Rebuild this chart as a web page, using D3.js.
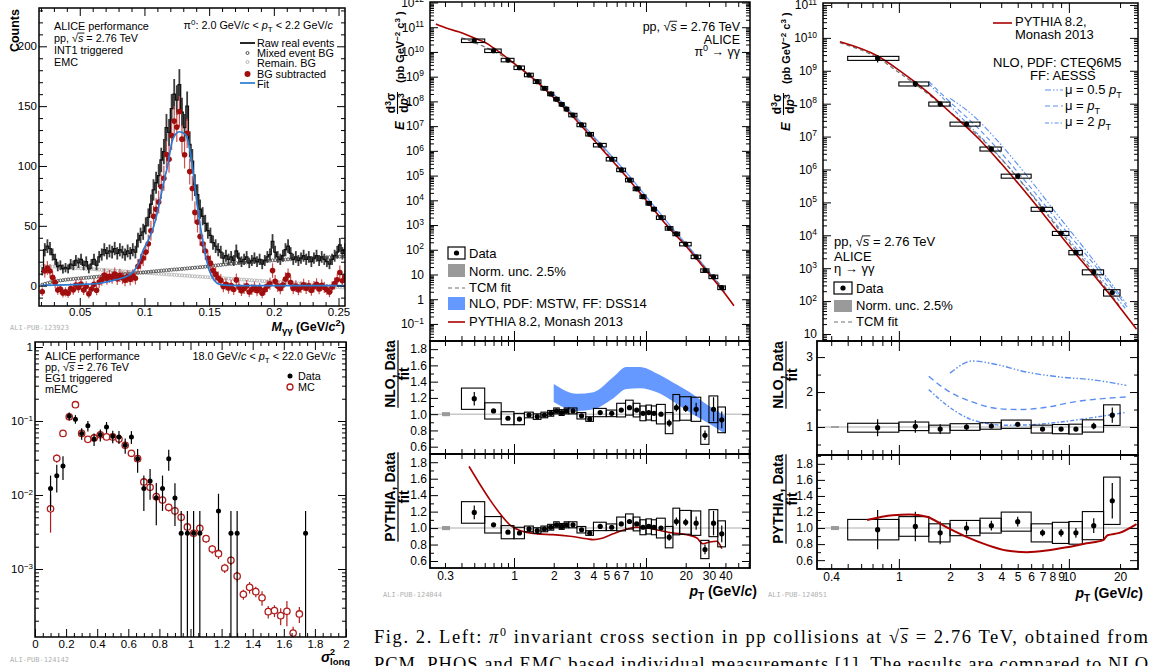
<!DOCTYPE html>
<html><head><meta charset="utf-8">
<script src="https://cdn.jsdelivr.net/npm/d3@7/dist/d3.min.js"></script>
<style>html,body{margin:0;padding:0;background:#fff;overflow:hidden}</style>
</head><body>
<svg id="fig" width="1150" height="666" xmlns="http://www.w3.org/2000/svg"></svg>
<script>
// ======================= DATA =======================
// Panel A: pi0 invariant mass, 2.0<pT<2.2 GeV/c (2 MeV bins from 0.020 GeV/c^2)
const rawCounts = [12,30,33,31,26,22,16,17,14,15, 14,18,17,21,19,22,17,20,14,18,
 22,17,24,26,30,27,29,28,31,27, 30,28,26,29,27,30,28,38,42,45,
 50,57,68,80,86,92,105,112,132,128, 148,160,155,168,145,132,150,118,104,84,
 76,64,58,52,46,42,36,33,30,28, 23,25,22,24,21,29,23,20,22,24,
 19,21,23,20,22,18,21,24,26,37, 28,24,22,25,30,33,27,22,24,21,
 23,25,22,24,20,23,25,21,24,22, 20,18,22,25,28,34,27,30];
const mixedBG = [0.8,1.5,2.1,2.7,3.2,3.6,4.0,4.3,4.6,4.9, 5.2,5.4,5.6,5.8,6.0,6.2,6.4,6.6,6.8,7.0,
 7.2,7.4,7.6,7.8,8.0,8.2,8.4,8.6,8.8,9.0, 9.2,9.4,9.6,9.8,10.1,10.3,10.5,10.7,10.9,11.1,
 11.3,11.5,11.7,11.9,12.1,12.3,12.5,12.7,12.9,13.1, 13.3,13.5,13.6,13.8,14.0,14.2,14.4,14.6,14.8,15.0,
 15.2,15.4,15.6,15.8,16.1,16.3,16.6,16.8,17.1,17.3, 17.6,17.8,18.1,18.3,18.6,18.8,18.9,19.1,19.3,19.4,
 19.6,19.8,19.9,20.1,20.3,20.4,20.6,20.8,20.9,21.1, 21.2,21.4,21.5,21.7,21.8,22.0,22.1,22.3,22.4,22.6,
 22.7,22.8,22.9,23.0,23.1,23.2,23.3,23.4,23.5,23.6, 23.7,23.8,23.9,24.1,24.2,24.3,24.5,24.6];
const remainBG = [16.3,16.2,16.1,16.0,15.9,15.8,15.7,15.6,15.5,15.3, 15.2,15.0,14.9,14.7,14.6,14.4,14.3,14.1,14.0,13.8,
 13.7,13.5,13.4,13.2,13.1,12.9,12.8,12.6,12.5,12.3, 12.2,12.0,11.9,11.7,11.6,11.4,11.3,11.1,11.0,10.8,
 10.7,10.5,10.4,10.2,10.1,9.9,9.8,9.6,9.5,9.3, 9.2,9.0,8.9,8.7,8.6,8.4,8.3,8.1,8.0,7.8,
 7.7,7.5,7.4,7.2,7.1,6.9,6.8,6.6,6.5,6.3, 6.2,6.0,5.9,5.7,5.6,5.4,5.3,5.1,5.0,4.8,
 4.7,4.5,4.4,4.2,4.1,3.9,3.8,3.6,3.5,3.3, 3.2,3.0,2.9,2.7,2.6,2.4,2.3,2.1,2.0,1.8,
 1.6,1.4,1.3,1.1,0.9,0.7,0.5,0.3,0.1,-0.1, -0.3,-0.5,-0.7,-0.9,-1.1,-1.3,-1.6,-1.9];
const bgSubtracted = [-5.1,12.3,14.8,12.3,6.9,2.6,-3.7,-2.9,-6.1,-5.2, -6.4,-2.4,-3.5,0.5,-1.6,1.4,-3.7,-0.7,-6.8,-2.8,
 1.1,-3.9,3.0,5.0,8.9,5.9,7.8,6.8,9.7,5.7, 8.6,6.6,4.5,7.5,5.3,8.3,6.2,16.2,20.1,23.1,
 28.0,35.0,45.9,57.9,63.8,69.8,82.7,89.7,109.6,105.6, 125.5,137.5,132.5,145.5,122.4,109.4,127.3,95.3,81.2,61.2,
 53.1,41.1,35.0,29.0,22.8,18.8,12.6,9.6,6.4,4.4, -0.8,1.2,-2.0,0.0,-3.2,4.8,-1.2,-4.2,-2.3,-0.2,
 -5.3,-3.3,-1.3,-4.3,-2.4,-6.3,-3.4,-0.4,1.6,12.6, 3.6,-0.4,-2.4,0.6,5.6,8.6,2.6,-2.4,-0.4,-3.4,
 -1.3,0.8,-2.2,-0.1,-4.0,-0.9,1.2,-2.7,0.4,-1.5, -3.4,-5.3,-1.2,1.8,4.9,11.0,4.1,7.3];
const fitMass   = [0.02,0.04,0.055,0.0655,0.078,0.086,0.0915,0.096,0.099,0.103,0.107,0.111,0.115,0.1177,0.1218,0.127,0.132,0.136,0.1407,0.146,0.15,0.154,0.159,0.165,0.18,0.22,0.255];
const fitCounts = [0.3,0.6,1.2,2,5,7.7,11.7,20,29.5,38,49,66,87,99,122,128.6,126,108,68,32,13,4.4,0.8,0.2,0,0,0];

// Panel B: sigma^2_long distribution, 18<pT<22 GeV/c
const sigData    = [0.10,0.14,0.18,0.22,0.26,0.30,0.34,0.38,0.42,0.46,0.50,0.54,0.58,0.62,0.66,0.70,0.74,0.78,0.82,0.86,0.90,0.94,0.98,1.02,1.06,1.18,1.26,1.30,1.74];
const sigDataVal = [0.0122,0.0182,0.0247,0.116,0.106,0.068,0.086,0.057,0.065,0.083,0.062,0.061,0.047,0.061,0.031,0.0122,0.0155,0.0092,0.0122,0.031,0.0091,0.00304,0.00304,0.00304,0.00304,0.0061,0.00304,0.00304,0.00304];
const sigDataErr = [0.0061,0.0074,0.0087,0.014,0.014,0.012,0.014,0.011,0.012,0.014,0.012,0.012,0.011,0.012,0.011,0.0061,0.0069,0.0053,0.0061,0.0098,0.0053,0.00304,0.00304,0.00304,0.00304,0.0043,0.00304,0.00304,0.00304];
const sigMC    = [0.10,0.14,0.18,0.22,0.26,0.30,0.34,0.38,0.42,0.46,0.50,0.54,0.58,0.62,0.66,0.70,0.74,0.78,0.82,0.86,0.90,0.94,0.98,1.02,1.06,1.10,1.14,1.18,1.22,1.26,1.30,1.34,1.38,1.42,1.46,1.50,1.54,1.58,1.62,1.66,1.70];
const sigMCVal = [0.0065,0.0313,0.068,0.114,0.166,0.068,0.0565,0.059,0.065,0.061,0.061,0.057,0.047,0.0366,0.031,0.015,0.0127,0.0095,0.00855,0.0068,0.0061,0.0050,0.0037,0.00304,0.00355,0.00257,0.00186,0.00161,0.00103,0.00131,0.0008,0.000455,0.000566,0.000494,0.000409,0.000265,0.000274,0.000234,0.000268,0.000136,0.000247];
const sigMCErr = [0.0034,0.004,0.004,0.005,0.006,0.003,0.003,0.003,0.003,0.003,0.003,0.003,0.003,0.0025,0.0022,0.0015,0.0014,0.0012,0.001,0.0008,0.0008,0.0006,0.0005,0.0004,0.0004,0.0003,0.00025,0.00025,0.00015,0.00018,0.00012,0.00007,0.0001,0.00008,0.00009,0.00005,0.00005,0.00006,0.0001,0.00003,0.00006];

// Panel C: pi0 invariant cross section
const pi0Edges = [0.4,0.6,0.8,1.0,1.2,1.4,1.6,1.8,2.0,2.2,2.4,2.6,3.0,3.5,4.0,5.0,6.0,7.0,8.0,9.0,10,11,12,14,16,18,22,26,30,35,40];
const pi0Pt    = [0.5,0.7,0.9,1.1,1.3,1.5,1.7,1.9,2.1,2.3,2.5,2.8,3.25,3.75,4.5,5.5,6.5,7.5,8.5,9.5,10.5,11.5,13,15,17,20,24,28,32.5,37.5];
const pi0Xsec  = [2.85e10,1.12e10,4.7e9,2.3e9,1.17e9,6.3e8,3.4e8,2.0e8,1.23e8,7.6e7,4.9e7,2.8e7,1.12e7,4.7e6,1.7e6,4.6e5,1.7e5,6.6e4,2.9e4,1.4e4,7.6e3,4.4e3,2.0e3,740,440,170,52,14.5,8.1,2.95];
const pi0Ratio = [1.19,1.04,0.95,0.94,0.99,0.97,0.99,1.01,1.04,1.02,1.04,1.04,0.98,0.94,1.02,1.01,1.05,1.08,1.05,1.01,1.02,1.01,1.00,0.89,1.08,1.07,1.06,0.74,1.06,0.93];
const pi0Sys   = [0.11,0.096,0.084,0.074,0.035,0.035,0.035,0.035,0.035,0.035,0.035,0.035,0.04,0.03,0.05,0.04,0.08,0.085,0.08,0.09,0.09,0.09,0.12,0.146,0.15,0.135,0.14,0.15,0.155,0.17];
const pi0Stat  = [0.07,0.015,0.01,0.01,0.01,0.01,0.01,0.01,0.01,0.01,0.01,0.01,0.01,0.01,0.01,0.01,0.012,0.015,0.015,0.015,0.02,0.02,0.02,0.05,0.045,0.04,0.075,0.08,0.14,0.11];
const pi0TcmPt = [0.4,0.5,0.7,1,1.5,2,3,4,6,8,10,15,20,30,40];
const pi0Tcm   = [3.8e10,2.4e10,1.07e10,3.47e9,6.5e8,1.55e8,1.82e7,3.4e6,2.7e5,4.3e4,1.02e4,794,158,12.6,2.1];
const pi0PyPt  = [0.256,0.31,0.41,0.5,0.62,0.7,1,1.5,2,3,4,6,8,10,15,20,30,40,46.4];
const pi0Py    = [1.35e11,9.0e10,5.75e10,3.63e10,2.24e10,1.45e10,3.47e9,6.0e8,1.41e8,1.62e7,2.9e6,2.5e5,4.3e4,1.02e4,750,145,10.5,1.58,0.54];
const pi0NloPt = [2.0,3.0,4.0,5.6,7.1,9.0,12.1,16,21.5,28.9,39.6];
const pi0NloLo = [1.78e8,1.89e7,3.59e6,5.0e5,1.20e5,2.63e4,3.9e3,631,102,14.3,1.70];
const pi0NloHi = [2.14e8,2.28e7,4.31e6,6.0e5,1.45e5,3.16e4,4.68e3,759,126,17.8,2.19];
const pi0NloRLo = [1.15,1.04,1.06,1.19,1.31,1.32,1.27,1.16,1.02,0.90,0.76];
const pi0NloRHi = [1.37,1.25,1.27,1.45,1.58,1.58,1.50,1.39,1.27,1.12,0.98];
const pi0PyRPt = [0.456,0.553,0.66,0.78,0.93,1.11,1.49,1.97,2.66,3.57,3.97,4.73,5.62,7.2,8.5,10.1,12.8,16,20.4,24.3,27,30.4,34.4,37.6];
const pi0PyR   = [1.75,1.53,1.34,1.18,1.04,0.97,0.93,0.92,0.90,0.87,0.86,0.88,0.93,0.99,1.01,1.0,0.97,0.94,0.92,0.88,0.81,0.83,0.84,0.75];
const pi0XLabels = [0.3,1,2,3,4,5,6,7,10,20,30,40];

// Panel D: eta invariant cross section
const etaEdges = [0.5,1,1.5,2,3,4,6,8,10,12,16,20];
const etaPt    = [0.75,1.25,1.75,2.5,3.5,5,7,9,11,14,18];
const etaXsec  = [2.4e9,4.0e8,9.8e7,2.4e7,4.2e6,6.3e5,6.2e4,1.15e4,3.0e3,760,182];
const etaRatio = [0.98,1.02,0.94,1.0,1.03,1.08,0.94,0.94,0.94,1.03,1.34];
const etaSys   = [0.13,0.12,0.12,0.095,0.09,0.11,0.12,0.14,0.15,0.17,0.22];
const etaStat  = [0.25,0.18,0.15,0.08,0.06,0.055,0.045,0.05,0.065,0.09,0.165];
const etaTcmPt = [0.45,0.75,1,1.5,2,3,4,6,8,10,14,20];
const etaTcm   = [7.1e9,2.45e9,8.9e8,1.9e8,5.6e7,9.5e6,2.1e6,1.78e5,2.7e4,6.2e3,741,67.6];
const etaPyPt  = [0.45,0.75,1,1.5,2,3,4,6,8,10,14,20,25];
const etaPy    = [7.6e9,2.8e9,1.05e9,2.1e8,5.5e7,7.9e6,1.51e6,1.26e5,2.0e4,4.8e3,617,63,14];
const etaNlo05Pt = [2.0,2.73,3.57,5.66,8.85,13.8,21.8];
const etaNlo05   = [1.45e8,4.4e7,1.07e7,6.5e5,3.4e4,1.9e3,83];
const etaNlo1Pt  = [1.5,2.0,3,4,6,8,10,14,20,22];
const etaNlo1    = [4.7e8,1.12e8,1.58e7,3.16e6,2.7e5,4.3e4,1.05e4,1.35e3,126,66];
const etaNlo2Pt  = [1.5,1.92,2.5,3.3,4.3,5.66,8.85,13.8,21.8];
const etaNlo2    = [4.0e8,1.10e8,2.6e7,6.3e6,1.41e6,2.7e5,1.58e4,1.02e3,54];
const etaNlo05R  = [2.54,2.89,2.81,2.57,2.43,2.35,2.19];
const etaNlo1RPt = [1.5,1.92,2.73,3.93,5.15,7.03,11.1,17.4,21.8];
const etaNlo1R   = [2.45,2.05,1.71,1.52,1.50,1.55,1.73,1.83,1.86];
const etaNlo2R   = [2.07,1.62,1.27,1.10,1.05,1.06,1.14,1.27,1.42];
const etaPyRPt = [0.65,0.92,1.16,1.46,1.91,2.5,3.29,4.3,5.66,7.4,9.7,12.7,15.9,16.9,19.8,25];
const etaPyR   = [1.10,1.16,1.17,1.14,1.01,0.89,0.79,0.72,0.70,0.72,0.76,0.81,0.85,0.91,0.94,1.05];
const etaXLabels = [0.4,1,2,3,4,5,6,7,8,9,10,20];

// ======================= HELPERS =======================
const svg = d3.select("#fig");
const FONT = "'Liberation Sans', Arial, Helvetica, sans-serif";
const RED = "#aa0000", BLUE = "#6699ff", LBLUE = "#5b8ef0";

function txt(parent, x, y, html, o = {}) {
  const fs = o.size || 12;
  const t = parent.append("text").attr("x", x).attr("y", y)
    .attr("font-family", o.family || FONT).attr("font-size", fs)
    .attr("text-anchor", o.anchor || "start").attr("fill", o.fill || "#000");
  if (o.weight) t.attr("font-weight", o.weight);
  if (o.style) t.attr("font-style", o.style);
  if (o.len) t.attr("textLength", o.len).attr("lengthAdjust", "spacing");
  t.html(html);
  t.selectAll(".ov").each(function () {
    const b = this.getBBox();
    parent.append("line").attr("x1", b.x - 0.5).attr("x2", b.x + b.width + 0.5)
      .attr("y1", y - fs * 0.78).attr("y2", y - fs * 0.78)
      .attr("stroke", o.fill || "#000").attr("stroke-width", fs > 14 ? 1.1 : 0.9);
  });
  return t;
}
function frame(x0, y0, x1, y1, w) {
  svg.append("rect").attr("x", x0).attr("y", y0).attr("width", x1 - x0).attr("height", y1 - y0)
    .attr("fill", "none").attr("stroke", "#000").attr("stroke-width", w || 1.5);
}
let clipN = 0;
function clipG(x0, y0, x1, y1) {
  const id = "clip" + (clipN++);
  svg.append("clipPath").attr("id", id).append("rect").attr("x", x0).attr("y", y0).attr("width", x1 - x0).attr("height", y1 - y0);
  return svg.append("g").attr("clip-path", `url(#${id})`);
}
function ticks(orient, pos, scale, vals, len, fmt, pad, fs) {
  const mk = { left: d3.axisLeft, right: d3.axisRight, top: d3.axisTop, bottom: d3.axisBottom }[orient];
  const tr = (orient === "left" || orient === "right") ? `translate(${pos},0)` : `translate(0,${pos})`;
  const g = svg.append("g").attr("transform", tr);
  g.call(mk(scale).tickValues(vals).tickSizeInner(-len).tickSizeOuter(0)
    .tickPadding(pad == null ? 4 : pad).tickFormat(fmt || (() => "")));
  g.select(".domain").remove();
  g.selectAll(".tick line").attr("stroke", "#000").attr("stroke-width", 1);
  g.attr("font-family", FONT).attr("font-size", fs || 12);
  g.selectAll(".tick text").attr("fill", "#000");
  return g;
}
function logVals(a, b) {
  const maj = [], min = [];
  for (let e = Math.floor(Math.log10(a)); e <= Math.ceil(Math.log10(b)); e++)
    for (let k = 1; k <= 9; k++) {
      const v = +(k * Math.pow(10, e)).toPrecision(6);
      if (v >= a * 0.9999 && v <= b * 1.0001) (k === 1 ? maj : min).push(v);
    }
  return [maj, min];
}
function supLabels(g, supSize) {
  g.selectAll(".tick text").each(function (d) {
    const e = Math.round(Math.log10(d)), t = d3.select(this);
    t.text("");
    if (e === 0) t.text("1");
    else if (e === 1) t.text("10");
    else {
      t.append("tspan").text("10");
      t.append("tspan").attr("dy", "-0.55em").attr("font-size", supSize).text(e < 0 ? "\u2212" + (-e) : e);
    }
  });
}
function linRange(a, b, step) { const n = Math.round((b - a) / step); return d3.range(n + 1).map(i => +(a + i * step).toFixed(6)); }
function without(arr, rem) { return arr.filter(v => !rem.some(r => Math.abs(r - v) < 1e-9)); }
function yTicks(scale, x0, x1, maj, min, lMaj, lMin, fmt, pad, fs) {
  const g = ticks("left", x0, scale, maj, lMaj, fmt, pad, fs);
  ticks("left", x0, scale, min, lMin);
  ticks("right", x1, scale, maj, lMaj);
  ticks("right", x1, scale, min, lMin);
  return g;
}
function xTicks(scale, y0, y1, maj, min, lMaj, lMin) {
  ticks("bottom", y1, scale, maj, lMaj); ticks("bottom", y1, scale, min, lMin);
  ticks("top", y0, scale, maj, lMaj); ticks("top", y0, scale, min, lMin);
}
function vbar(g, x, ya, yb, color, w) {
  g.append("line").attr("x1", x).attr("x2", x).attr("y1", ya).attr("y2", yb).attr("stroke", color).attr("stroke-width", w);
}
const SQS = 'pp, \u221A<tspan class="ov" font-style="italic">s</tspan> = 2.76 TeV';

// ======================= PANEL A =======================
{
  const A = { x0: 39, x1: 345, y0: 8, y1: 306 };
  const x = d3.scaleLinear([0.0185, 0.255], [A.x0, A.x1]);
  const y = d3.scaleLinear([-17, 232], [A.y1, A.y0]);
  const centers = rawCounts.map((_, i) => 0.021 + 0.002 * i);
  const g = clipG(A.x0, A.y0, A.x1, A.y1);
  g.selectAll(null).data(remainBG).join("circle").attr("cx", (d, i) => x(centers[i])).attr("cy", d => y(d))
    .attr("r", 1.5).attr("fill", "none").attr("stroke", "#b4b4b4").attr("stroke-width", 0.9);
  g.selectAll(null).data(mixedBG).join("circle").attr("cx", (d, i) => x(centers[i])).attr("cy", d => y(d))
    .attr("r", 1.5).attr("fill", "none").attr("stroke", "#505050").attr("stroke-width", 0.9);
  rawCounts.forEach((v, i) => vbar(g, x(centers[i]), y(v + Math.sqrt(v)), y(v - Math.sqrt(v)), "#3c3c3c", 1.8));
  const steps = rawCounts.map((v, i) => [0.020 + 0.002 * i, v]);
  steps.push([0.020 + 0.002 * rawCounts.length, rawCounts[rawCounts.length - 1]]);
  g.append("path").attr("d", d3.line().x(d => x(d[0])).y(d => y(d[1])).curve(d3.curveStepAfter)(steps))
    .attr("fill", "none").attr("stroke", "#111").attr("stroke-width", 1.3);
  bgSubtracted.forEach((v, i) => vbar(g, x(centers[i]), y(v + Math.sqrt(rawCounts[i])), y(v - Math.sqrt(rawCounts[i])), "#c85050", 1.2));
  g.selectAll(null).data(bgSubtracted).join("circle").attr("cx", (d, i) => x(centers[i])).attr("cy", d => y(d))
    .attr("r", 2.8).attr("fill", "#a00e0e");
  g.append("path").attr("d", d3.line().x((d, i) => x(fitMass[i])).y(d => y(d)).curve(d3.curveMonotoneX)(fitCounts))
    .attr("fill", "none").attr("stroke", "#2a7bd4").attr("stroke-width", 1.7);
  frame(A.x0, A.y0, A.x1, A.y1);
  yTicks(y, A.x0, A.x1, [0, 50, 100, 150, 200], without(linRange(-10, 230, 10), [0, 50, 100, 150, 200]), 8, 4, d => d, 2, 11.5);
  const xm = [0.05, 0.1, 0.15, 0.2, 0.25];
  xTicks(x, A.y0, A.y1, xm, without(linRange(0.02, 0.25, 0.01), xm), 8, 4);
  ticks("bottom", A.y1, x, xm, 0, d => String(+d.toFixed(2)), 1.5, 11.5);
  txt(svg, 0, 0, "Counts", { size: 12.5, weight: "bold", anchor: "end" }).attr("transform", "translate(19,9) rotate(-90)");
  txt(svg, 345, 331, '<tspan font-style="italic">M</tspan><tspan dy="3" font-size="9.5">\u03B3\u03B3</tspan><tspan dy="-3"> (GeV/</tspan><tspan font-style="italic">c</tspan><tspan dy="-5" font-size="9.5">2</tspan><tspan dy="5">)</tspan>', { size: 12.5, weight: "bold", anchor: "end" });
  txt(svg, 10, 330, "ALI-PUB-123923", { size: 7, fill: "#b0b0b0", family: "'DejaVu Sans Mono', monospace" });
  const fs = 10.8;
  txt(svg, 54, 30, "ALICE performance", { size: fs });
  txt(svg, 54, 41.5, SQS, { size: fs });
  txt(svg, 54, 53.5, "INT1 triggered", { size: fs });
  txt(svg, 54, 65.5, "EMC", { size: fs });
  txt(svg, 333, 29, '\u03C0<tspan dy="-4" font-size="8">0</tspan><tspan dy="4">: 2.0 GeV/</tspan><tspan font-style="italic">c</tspan><tspan> &lt; </tspan><tspan font-style="italic">p</tspan><tspan dy="3" font-size="8">T</tspan><tspan dy="-3"> &lt; 2.2 GeV/</tspan><tspan font-style="italic">c</tspan>', { size: fs, anchor: "end" });
  svg.append("line").attr("x1", 240).attr("x2", 255).attr("y1", 43).attr("y2", 43).attr("stroke", "#111").attr("stroke-width", 1.8);
  svg.append("circle").attr("cx", 247.5).attr("cy", 53).attr("r", 1.5).attr("fill", "none").attr("stroke", "#505050");
  svg.append("circle").attr("cx", 247.5).attr("cy", 62).attr("r", 1.5).attr("fill", "none").attr("stroke", "#b4b4b4");
  svg.append("circle").attr("cx", 247.5).attr("cy", 74).attr("r", 3).attr("fill", "#a00e0e");
  svg.append("line").attr("x1", 240).attr("x2", 255).attr("y1", 83).attr("y2", 83).attr("stroke", "#2a7bd4").attr("stroke-width", 1.7);
  txt(svg, 257, 47, "Raw real events", { size: fs });
  txt(svg, 257, 57, "Mixed event BG", { size: fs });
  txt(svg, 257, 66.5, "Remain. BG", { size: fs });
  txt(svg, 257, 78, "BG subtracted", { size: fs });
  txt(svg, 257, 87.5, "Fit", { size: fs });
}

// ======================= PANEL B =======================
{
  const B = { x0: 35, x1: 346, y0: 342, y1: 637 };
  const x = d3.scaleLinear([0, 2], [B.x0, B.x1]);
  const y = d3.scaleLog([Math.pow(10, -3.919), Math.pow(10, 0.0676)], [B.y1, B.y0]);
  const g = clipG(B.x0, B.y0, B.x1, B.y1);
  sigMC.forEach((s, i) => {
    const v = sigMCVal[i], e = sigMCErr[i];
    vbar(g, x(s), y(v + e), v - e > 0 ? y(v - e) : B.y1 + 5, "#b01c1c", 1.2);
  });
  g.selectAll(null).data(sigMCVal).join("circle").attr("cx", (d, i) => x(sigMC[i])).attr("cy", d => y(d))
    .attr("r", 3.2).attr("fill", "#fff").attr("stroke", "#b01c1c").attr("stroke-width", 1.3);
  sigData.forEach((s, i) => {
    const v = sigDataVal[i], e = sigDataErr[i];
    vbar(g, x(s), y(v + e), v - e > 1e-6 ? y(v - e) : B.y1 + 5, "#000", 1.2);
  });
  g.selectAll(null).data(sigDataVal).join("circle").attr("cx", (d, i) => x(sigData[i])).attr("cy", d => y(d))
    .attr("r", 2.5).attr("fill", "#000");
  frame(B.x0, B.y0, B.x1, B.y1);
  const [ymaj, ymin] = logVals(y.domain()[0], y.domain()[1]);
  const gy = yTicks(y, B.x0, B.x1, ymaj, ymin, 8, 4, d => d, 2, 11.5);
  supLabels(gy, 8);
  const xm = linRange(0, 2, 0.2);
  xTicks(x, B.y0, B.y1, xm, without(linRange(0, 2, 0.05), xm), 8, 4);
  ticks("bottom", B.y1, x, xm, 0, d => String(+d.toFixed(1)), 2.5, 11.5);
  txt(svg, 321, 662, "\u03C3", { size: 14, weight: "bold", style: "italic" });
  txt(svg, 330, 655, "2", { size: 9, weight: "bold" });
  txt(svg, 330, 665, "long", { size: 9.5, weight: "bold" });
  txt(svg, 10, 662, "ALI-PUB-124142", { size: 7, fill: "#b0b0b0", family: "'DejaVu Sans Mono', monospace" });
  const fs = 10.8;
  txt(svg, 45, 360, "ALICE performance", { size: fs });
  txt(svg, 45, 371, SQS, { size: fs });
  txt(svg, 45, 382, "EG1 triggered", { size: fs });
  txt(svg, 45, 393, "mEMC", { size: fs });
  txt(svg, 336, 360, '18.0 GeV/<tspan font-style="italic">c</tspan><tspan> &lt; </tspan><tspan font-style="italic">p</tspan><tspan dy="3" font-size="8">T</tspan><tspan dy="-3"> &lt; 22.0 GeV/</tspan><tspan font-style="italic">c</tspan>', { size: fs, anchor: "end" });
  svg.append("circle").attr("cx", 290).attr("cy", 376).attr("r", 2.5).attr("fill", "#000");
  svg.append("circle").attr("cx", 290).attr("cy", 387).attr("r", 3).attr("fill", "none").attr("stroke", "#b01c1c").attr("stroke-width", 1.3);
  txt(svg, 298, 380, "Data", { size: fs });
  txt(svg, 298, 391, "MC", { size: fs });
}

// ============ shared drawing for spectra / ratios ============
function spectrumTitle(bx, by) {
  const g = svg.append("g").attr("transform", `translate(${bx},${by}) rotate(-90)`)
    .attr("font-family", FONT).attr("font-weight", "bold").attr("font-size", 11);
  g.append("text").attr("x", 0).attr("y", 0).attr("font-style", "italic").attr("font-size", 13).text("E");
  const cx = 27;
  g.append("text").attr("x", cx).attr("y", -9).attr("text-anchor", "middle").attr("font-size", 12)
    .html('d<tspan dy="-4" font-size="8.5">3</tspan><tspan dy="4">\u03C3</tspan>');
  g.append("line").attr("x1", cx - 11).attr("x2", cx + 11).attr("y1", -6.5).attr("y2", -6.5).attr("stroke", "#000").attr("stroke-width", 1.1);
  g.append("text").attr("x", cx).attr("y", 4).attr("text-anchor", "middle").attr("font-size", 12)
    .html('d<tspan font-style="italic">p</tspan><tspan dy="-4" font-size="8.5">3</tspan>');
  g.append("text").attr("x", 47).attr("y", 0)
    .html('(pb GeV<tspan dy="-4.5" font-size="8">\u22122</tspan><tspan dy="4.5"> c</tspan><tspan dy="-4.5" font-size="8">3</tspan><tspan dy="4.5"> )</tspan>');
}
function ratioTitle(lx, cy, num) {
  const g = svg.append("g").attr("transform", `translate(${lx},${cy}) rotate(-90)`)
    .attr("font-family", FONT).attr("font-weight", "bold").attr("font-size", 14);
  const t = g.append("text").attr("x", 0).attr("y", -3).attr("text-anchor", "middle").text(num);
  const w = t.node().getComputedTextLength();
  g.append("line").attr("x1", -w / 2).attr("x2", w / 2).attr("y1", 0).attr("y2", 0).attr("stroke", "#000").attr("stroke-width", 1.2);
  g.append("text").attr("x", 0).attr("y", 11).attr("text-anchor", "middle").text("fit");
}
function ptTitle(xe, yb) {
  txt(svg, xe, yb, '<tspan font-style="italic">p</tspan><tspan dy="3.5" font-size="10">T</tspan><tspan dy="-3.5"> (GeV/</tspan><tspan font-style="italic">c</tspan>)', { size: 14, weight: "bold", anchor: "end" });
}
function dataBoxes(g, x, y, edges, pts, vals, sys, stat, minH, r) {
  pts.forEach((p, i) => {
    const v = vals[i];
    let ya = y(v * (1 + sys[i])), yb = y(v * (1 - sys[i]));
    if (yb - ya < minH) { const m = (ya + yb) / 2; ya = m - minH / 2; yb = m + minH / 2; }
    g.append("rect").attr("x", x(edges[i])).attr("y", ya).attr("width", x(edges[i + 1]) - x(edges[i])).attr("height", yb - ya)
      .attr("fill", "none").attr("stroke", "#000").attr("stroke-width", 1.1);
  });
  pts.forEach((p, i) => vbar(g, x(p), y(vals[i] * (1 + stat[i])), y(vals[i] * (1 - stat[i])), "#000", 1.2));
  g.selectAll(null).data(vals).join("circle").attr("cx", (d, i) => x(pts[i])).attr("cy", d => y(d)).attr("r", r || 2.6).attr("fill", "#000");
}
function curve(g, x, y, pts, vals, color, w, dash) {
  const p = g.append("path").attr("d", d3.line().x((d, i) => x(pts[i])).y(d => y(d)).curve(d3.curveMonotoneX)(vals))
    .attr("fill", "none").attr("stroke", color).attr("stroke-width", w);
  if (dash) p.attr("stroke-dasharray", dash);
  return p;
}
function unityAndNorm(g, x0, x1, y, nx) {
  g.append("line").attr("x1", x0).attr("x2", x1).attr("y1", y(1)).attr("y2", y(1)).attr("stroke", "#c8c8c8").attr("stroke-width", 1.5);
  g.append("rect").attr("x", nx).attr("y", y(1.025)).attr("width", 8).attr("height", y(0.975) - y(1.025)).attr("fill", "#9a9a9a");
}
function logXTicks(x, y0, y1) {
  const [maj, min] = logVals(x.domain()[0], x.domain()[1]);
  xTicks(x, y0, y1, maj, min, 10, 5);
}
const ratioFmt = d => d.toFixed(1);

// ======================= PANEL C =======================
{
  const X0 = 430, X1 = 750, Y0 = 2, YS = 341, YR = 454, YB = 568;
  const x = d3.scaleLog([0.231, 61.4], [X0, X1]);
  const y = d3.scaleLog([Math.pow(10, -1.69), Math.pow(10, 12.02)], [YS, Y0]);
  const r1 = d3.scaleLinear([0.51, 1.9], [YR, YS]);
  const r2 = d3.scaleLinear([0.515, 1.9], [YB, YR]);
  // spectrum
  const g = clipG(X0, Y0, X1, YS);
  g.append("path").attr("d", d3.area().x((d, i) => x(pi0NloPt[i])).y0(d => y(d)).y1((d, i) => y(pi0NloHi[i])).curve(d3.curveMonotoneX)(pi0NloLo)).attr("fill", BLUE);
  curve(g, x, y, pi0TcmPt, pi0Tcm, "#707070", 1.2, "4,3");
  curve(g, x, y, pi0PyPt, pi0Py, RED, 1.6);
  dataBoxes(g, x, y, pi0Edges, pi0Pt, pi0Xsec, pi0Sys, pi0Stat, 3.5, 2.6);
  frame(X0, Y0, X1, YS);
  const [ymaj, ymin] = logVals(y.domain()[0], y.domain()[1]);
  supLabels(yTicks(y, X0, X1, ymaj, ymin, 8, 4, d => d, 6, 12), 8.5);
  logXTicks(x, Y0, YS);
  spectrumTitle(404, 130);
  txt(svg, 740, 31, SQS, { size: 12.5, anchor: "end" });
  txt(svg, 740, 43.5, "ALICE", { size: 12.5, anchor: "end" });
  txt(svg, 740, 56, '\u03C0<tspan dy="-5" font-size="9">0</tspan><tspan dy="5"> \u2192 \u03B3\u03B3</tspan>', { size: 12.5, anchor: "end" });
  // legend
  svg.append("rect").attr("x", 448).attr("y", 247).attr("width", 17).attr("height", 12).attr("fill", "none").attr("stroke", "#000").attr("stroke-width", 1.2);
  svg.append("circle").attr("cx", 456.5).attr("cy", 253).attr("r", 2.6).attr("fill", "#000");
  svg.append("rect").attr("x", 448).attr("y", 264).attr("width", 17).attr("height", 13).attr("fill", "#9a9a9a");
  svg.append("line").attr("x1", 448).attr("x2", 465).attr("y1", 288).attr("y2", 288).attr("stroke", "#707070").attr("stroke-width", 1.2).attr("stroke-dasharray", "4,3");
  svg.append("rect").attr("x", 448).attr("y", 297).attr("width", 17).attr("height", 13).attr("fill", BLUE);
  svg.append("line").attr("x1", 448).attr("x2", 465).attr("y1", 322).attr("y2", 322).attr("stroke", RED).attr("stroke-width", 1.6);
  txt(svg, 469, 258, "Data", { size: 13 });
  txt(svg, 469, 276, "Norm. unc. 2.5%", { size: 13 });
  txt(svg, 469, 292, "TCM fit", { size: 13 });
  txt(svg, 469, 308, "NLO, PDF: MSTW, FF: DSS14", { size: 13 });
  txt(svg, 469, 326, "PYTHIA 8.2, Monash 2013", { size: 13 });
  // NLO ratio
  const g1 = clipG(X0, YS, X1, YR);
  unityAndNorm(g1, X0, X1, r1, X0 + 12);
  g1.append("path").attr("d", d3.area().x((d, i) => x(pi0NloPt[i])).y0(d => r1(d)).y1((d, i) => r1(pi0NloRHi[i])).curve(d3.curveMonotoneX)(pi0NloRLo)).attr("fill", BLUE);
  dataBoxes(g1, x, r1, pi0Edges, pi0Pt, pi0Ratio, pi0Sys, pi0Stat, 0, 2.6);
  frame(X0, YS, X1, YR, 1.8);
  const rm = [0.6, 0.8, 1.0, 1.2, 1.4, 1.6, 1.8];
  yTicks(r1, X0, X1, rm, without(linRange(0.6, 1.8, 0.1), rm), 8, 4, ratioFmt, 3, 12);
  logXTicks(x, YS, YR);
  ratioTitle(398, 374, "NLO, Data");
  // PYTHIA ratio
  const g2 = clipG(X0, YR, X1, YB);
  unityAndNorm(g2, X0, X1, r2, X0 + 12);
  curve(g2, x, r2, pi0PyRPt, pi0PyR, RED, 1.6);
  dataBoxes(g2, x, r2, pi0Edges, pi0Pt, pi0Ratio, pi0Sys, pi0Stat, 0, 2.6);
  frame(X0, YR, X1, YB, 1.8);
  yTicks(r2, X0, X1, rm, without(linRange(0.6, 1.8, 0.1), rm), 8, 4, ratioFmt, 3, 12);
  logXTicks(x, YR, YB);
  ticks("bottom", YB, x, pi0XLabels, 0, d => (d < 1 ? d.toFixed(1) : String(d)), 3, 12);
  ratioTitle(398, 497, "PYTHIA, Data");
  ptTitle(757, 596);
  txt(svg, 383, 597, "ALI-PUB-124044", { size: 7, fill: "#b0b0b0", family: "'DejaVu Sans Mono', monospace" });
}

// ======================= PANEL D =======================
{
  const XT = 823, X0 = 817, X1 = 1138, Y0 = 3, YS = 341, YR = 455, YB = 569;
  const x = d3.scaleLog([0.33, 25.5], [X0, X1]);
  const y = d3.scaleLog([Math.pow(10, 0.787), Math.pow(10, 11.06)], [YS, Y0]);
  const r1 = d3.scaleLinear([0.2, 3.46], [YR, YS]);
  const r2 = d3.scaleLinear([0.49, 1.91], [YB, YR]);
  const g = clipG(XT, Y0, X1, YS);
  curve(g, x, y, etaNlo05Pt, etaNlo05, LBLUE, 1.1, "6,2,1.5,2,1.5,2");
  curve(g, x, y, etaNlo1Pt, etaNlo1, LBLUE, 1.1, "5,3");
  curve(g, x, y, etaNlo2Pt, etaNlo2, LBLUE, 1.1, "4,2,1.5,2");
  curve(g, x, y, etaTcmPt, etaTcm, "#707070", 1.2, "4,3");
  curve(g, x, y, etaPyPt, etaPy, RED, 1.6);
  dataBoxes(g, x, y, etaEdges, etaPt, etaXsec, etaSys, etaStat, 4, 2.6);
  frame(XT, Y0, X1, YS);
  const [ymaj, ymin] = logVals(y.domain()[0], y.domain()[1]);
  supLabels(yTicks(y, XT, X1, ymaj, ymin, 8, 4, d => d, 6, 12), 8.5);
  logXTicks(x, Y0, YS);
  spectrumTitle(790, 131);
  // legends
  svg.append("line").attr("x1", 993).attr("x2", 1012).attr("y1", 23).attr("y2", 23).attr("stroke", RED).attr("stroke-width", 1.6);
  txt(svg, 1015, 26, "PYTHIA 8.2,", { size: 13 });
  txt(svg, 1015, 38.5, "Monash 2013", { size: 13 });
  txt(svg, 993, 67, "NLO, PDF: CTEQ6M5", { size: 13 });
  txt(svg, 1030, 79.5, "FF: AESSS", { size: 13 });
  svg.append("line").attr("x1", 1045).attr("x2", 1063).attr("y1", 90).attr("y2", 90).attr("stroke", LBLUE).attr("stroke-width", 1.2).attr("stroke-dasharray", "6,2,1.5,2,1.5,2");
  svg.append("line").attr("x1", 1045).attr("x2", 1063).attr("y1", 106).attr("y2", 106).attr("stroke", LBLUE).attr("stroke-width", 1.2).attr("stroke-dasharray", "5,3");
  svg.append("line").attr("x1", 1045).attr("x2", 1063).attr("y1", 123).attr("y2", 123).attr("stroke", LBLUE).attr("stroke-width", 1.2).attr("stroke-dasharray", "4,2,1.5,2");
  const PT = '<tspan font-style="italic">p</tspan><tspan dy="3.5" font-size="9">T</tspan>';
  txt(svg, 1065, 94, '\u03BC = 0.5 ' + PT, { size: 13 });
  txt(svg, 1065, 110, '\u03BC = ' + PT, { size: 13 });
  txt(svg, 1065, 126, '\u03BC = 2 ' + PT, { size: 13 });
  txt(svg, 834, 246, SQS, { size: 13 });
  txt(svg, 834, 260.5, "ALICE", { size: 13 });
  txt(svg, 834, 273, "\u03B7 \u2192 \u03B3\u03B3", { size: 13 });
  svg.append("rect").attr("x", 834).attr("y", 282).attr("width", 18).attr("height", 12).attr("fill", "none").attr("stroke", "#000").attr("stroke-width", 1.2);
  svg.append("circle").attr("cx", 843).attr("cy", 288).attr("r", 2.6).attr("fill", "#000");
  svg.append("rect").attr("x", 834).attr("y", 300).attr("width", 18).attr("height", 12).attr("fill", "#9a9a9a");
  svg.append("line").attr("x1", 834).attr("x2", 852).attr("y1", 322).attr("y2", 322).attr("stroke", "#707070").attr("stroke-width", 1.2).attr("stroke-dasharray", "4,3");
  txt(svg, 856, 293, "Data", { size: 13 });
  txt(svg, 856, 310, "Norm. unc. 2.5%", { size: 13 });
  txt(svg, 856, 326, "TCM fit", { size: 13 });
  // NLO ratio
  const g1 = clipG(X0, YS, X1, YR);
  unityAndNorm(g1, X0, X1, r1, X0 + 14);
  curve(g1, x, r1, etaNlo05Pt, etaNlo05R, LBLUE, 1.4, "6,2,1.5,2,1.5,2");
  curve(g1, x, r1, etaNlo1RPt, etaNlo1R, LBLUE, 1.4, "6,4");
  curve(g1, x, r1, etaNlo2Pt, etaNlo2R, LBLUE, 1.4, "4,2,1.5,2");
  dataBoxes(g1, x, r1, etaEdges, etaPt, etaRatio, etaSys, etaStat, 0, 2.6);
  frame(X0, YS, X1, YR, 1.8);
  yTicks(r1, X0, X1, [1, 2, 3], [0.5, 1.5, 2.5], 8, 4, d => d, 4, 12);
  logXTicks(x, YS, YR);
  ratioTitle(786, 375, "NLO, Data");
  // PYTHIA ratio
  const g2 = clipG(X0, YR, X1, YB);
  unityAndNorm(g2, X0, X1, r2, X0 + 14);
  dataBoxes(g2, x, r2, etaEdges, etaPt, etaRatio, etaSys, etaStat, 0, 2.6);
  curve(g2, x, r2, etaPyRPt, etaPyR, RED, 2);
  frame(X0, YR, X1, YB, 1.8);
  const rm = [0.6, 0.8, 1.0, 1.2, 1.4, 1.6, 1.8];
  yTicks(r2, X0, X1, rm, without(linRange(0.5, 1.9, 0.1), rm), 8, 4, ratioFmt, 4, 12);
  logXTicks(x, YR, YB);
  ticks("bottom", YB, x, etaXLabels, 0, d => (d < 1 ? d.toFixed(1) : String(d)), 3.5, 12);
  ratioTitle(786, 499, "PYTHIA, Data");
  ptTitle(1143, 598);
  txt(svg, 768, 597, "ALI-PUB-124051", { size: 7, fill: "#b0b0b0", family: "'DejaVu Sans Mono', monospace" });
}

// ======================= CAPTION =======================
{
  const SER = "'Liberation Serif', 'Times New Roman', serif";
  txt(svg, 374, 643, 'Fig. 2.  Left: <tspan font-style="italic">\u03C0</tspan><tspan dy="-7" font-size="12">0</tspan><tspan dy="7"> invariant cross section in pp collisions at  \u221A</tspan><tspan class="ov" font-style="italic">s</tspan><tspan> = 2.76 TeV, obtained from</tspan>', { size: 18.5, family: SER, len: 774 });
  txt(svg, 374, 670, 'PCM, PHOS and EMC based individual measurements [1]. The results are compared to NLO', { size: 18.5, family: SER, len: 774 });
}
</script></body></html>
